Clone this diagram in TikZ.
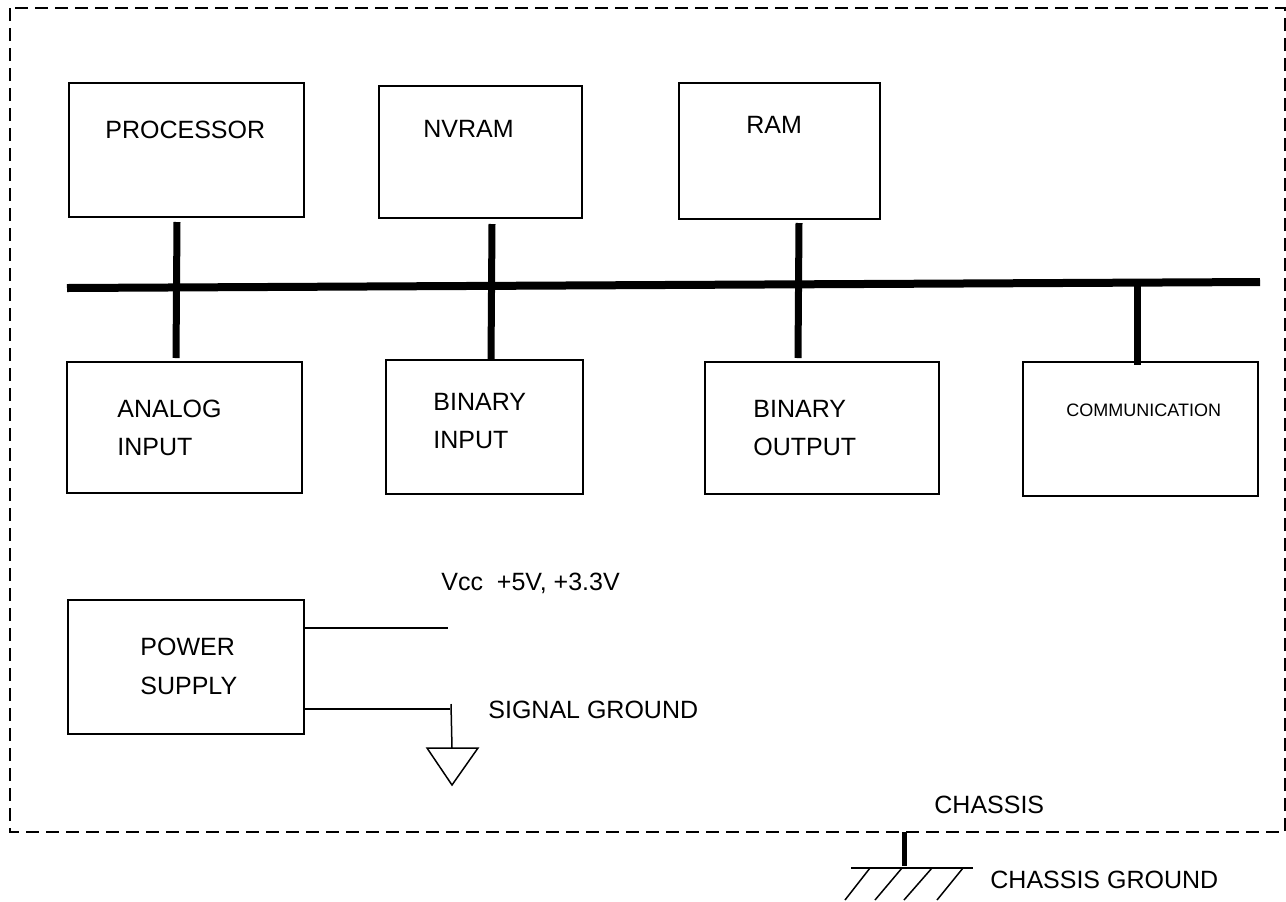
\documentclass[tikz,border=0pt]{standalone}
\usepackage{fontspec}
\setmainfont{Liberation Sans}
\usetikzlibrary{fit}
\begin{document}
\begin{tikzpicture}[x=0.5pt,y=-0.5pt,
  box/.style={draw, line width=1pt, inner sep=0pt, rectangle},
  lbl/.style={anchor=base west, inner sep=0pt, font=\fontsize{12.5}{19}\selectfont},
  smalllbl/.style={anchor=base west, inner sep=0pt, font=\fontsize{9}{11}\selectfont},
  busline/.style={line width=4pt},
  stub/.style={line width=3.5pt},
  thin/.style={line width=0.75pt},
  border/.style={line width=1pt, dash pattern=on 6.5pt off 3.5pt}]
\useasboundingbox (0,0) rectangle (1286,901);
% enclosure
\draw[border] (10,8) rectangle (1285,832);
% boxes
\node[box, fit={(69,83)(304,217)}] (proc) {};
\node[box, fit={(379,86)(582,218)}] (nvram) {};
\node[box, fit={(679,83)(880,219)}] (ram) {};
\node[box, fit={(67,362)(302,493)}] (ain) {};
\node[box, fit={(386,360)(583,494)}] (bin) {};
\node[box, fit={(705,362)(939,494)}] (bout) {};
\node[box, fit={(1023,362)(1258,496)}] (comm) {};
\node[box, fit={(68,600)(304,734)}] (psu) {};
% texts
\node[lbl] (tproc) at (105,138) {PROCESSOR};
\node[lbl] (tnvram) at (423,137) {NVRAM};
\node[lbl] (tram) at (746,133) {RAM};
\node[lbl] (tain1) at (117,417) {ANALOG};
\node[lbl] (tain2) at (117,455) {INPUT};
\node[lbl] (tbin1) at (433,410) {BINARY};
\node[lbl] (tbin2) at (433,448) {INPUT};
\node[lbl] (tbout1) at (753,417) {BINARY};
\node[lbl] (tbout2) at (753,455) {OUTPUT};
\node[smalllbl] (tcomm) at (1066,416) {COMMUNICATION};
\node[lbl] (tpsu1) at (140,655) {POWER};
\node[lbl] (tpsu2) at (140,694) {SUPPLY};
\node[lbl] (tvcc) at (441,590) {Vcc\ \ +5V, +3.3V};
\node[lbl] (tsg) at (488,718) {SIGNAL GROUND};
\node[lbl] (tch) at (934,813) {CHASSIS};
\node[lbl] (tchg) at (990,888) {CHASSIS GROUND};
% bus
\coordinate (busL) at (67,288);
\coordinate (busR) at (1260,282);
\draw[busline] (busL) -- (busR);
\coordinate (s1a) at (177,222); \coordinate (s1b) at (176,358);
\coordinate (s2a) at (492,224); \coordinate (s2b) at (491,360);
\coordinate (s3a) at (799,223); \coordinate (s3b) at (798,358);
\coordinate (s4a) at (1137,283); \coordinate (s4b) at (1137,365);
\draw[stub] (s1a) -- (s1b);
\draw[stub] (s2a) -- (s2b);
\draw[stub] (s3a) -- (s3b);
\draw[stub] (s4a) -- (s4b);
% power lines
\coordinate (vccE) at (448,628);
\coordinate (gndE) at (450,709);
\draw[thin] (psu.east |- vccE) -- (vccE);
\draw[thin] (psu.east |- gndE) -- (gndE);
\coordinate (gtop) at (451,704);
\coordinate (gbot) at (452,748);
\draw[thin] (gtop) -- (gbot);
\draw[thin] (427,748) -- (478,748) -- (452,785) -- cycle;
% chassis ground
\coordinate (chT) at (904,832);
\coordinate (chB) at (904,866);
\draw[line width=2.5pt] (chT) -- (chB);
\draw[thin] (851,868) -- (973,868);
\foreach \a/\b in {870/845, 902/875, 932/904, 963/937}
  \draw[thin] (\a,868) -- (\b,900);
\end{tikzpicture}
\end{document}
